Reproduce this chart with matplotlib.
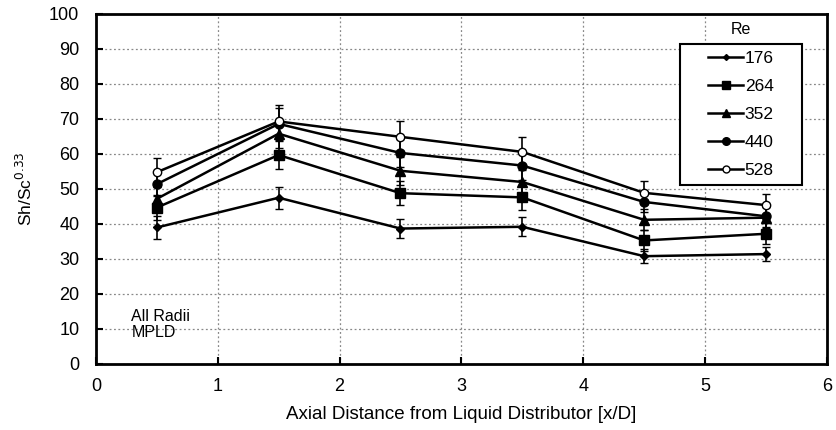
import matplotlib
matplotlib.use("Agg")
import matplotlib.pyplot as plt
from matplotlib.lines import Line2D
from matplotlib.patches import Rectangle

# axial positions [x/D]
x_pos = [0.5, 1.5, 2.5, 3.5, 4.5, 5.5]

re_labels = ["176", "264", "352", "440", "528"]

sh_176 = [39, 47.5, 38.7, 39.2, 30.8, 31.4]
sh_264 = [44.7, 59.7, 48.8, 47.6, 35.3, 37.2]
sh_352 = [47.2, 65.8, 55.2, 52, 41.2, 41.8]
sh_440 = [51.4, 68.6, 60.3, 56.7, 46.3, 42.2]
sh_528 = [54.8, 69.3, 64.9, 60.6, 48.9, 45.4]

err_176 = [3.2, 3.2, 2.8, 2.7, 2.0, 2.0]
err_264 = [3.5, 4.0, 3.5, 3.5, 3.0, 3.0]
err_352 = [3.5, 4.0, 4.0, 3.5, 3.0, 3.0]
err_440 = [3.5, 4.5, 4.0, 4.0, 3.0, 3.0]
err_528 = [4.0, 4.6, 4.5, 4.3, 3.3, 3.3]

series = [sh_176, sh_264, sh_352, sh_440, sh_528]
errors = [err_176, err_264, err_352, err_440, err_528]
markers = ["D", "s", "^", "o", "o"]
msizes = [4, 6.5, 6.5, 6.5, 6]
faces = ["black", "black", "black", "black", "white"]

plt.rcParams["font.family"] = ["Liberation Sans", "DejaVu Sans"]

fig = plt.figure(figsize=(8.36, 4.30), dpi=100)
ax = fig.add_axes([0.1148, 0.1535, 0.8742, 0.814])

handles = []
for y, e, m, ms, fc, lab in zip(series, errors, markers, msizes, faces, re_labels):
    ax.errorbar(x_pos, y, yerr=e, color="black", lw=1.8, marker=m, ms=ms,
                mfc=fc, mec="black", mew=1.0, elinewidth=1.2, capsize=3,
                capthick=1.2)
    handles.append(Line2D([], [], color="black", lw=1.8, marker=m, ms=ms - 1,
                          mfc=fc, mec="black", mew=1.0, label=lab))

ax.set_xlim(0, 6)
ax.set_ylim(0, 100)
ax.set_xticks(range(0, 7))
ax.set_yticks(range(0, 101, 10))
ax.grid(True, color="#888888", linestyle=(0, (1.5, 2)), lw=0.9)
ax.tick_params(direction="in", length=5, width=1.5, labelsize=13)
ax.tick_params(axis="y", pad=12)
ax.tick_params(axis="x", pad=10)
for sp in ax.spines.values():
    sp.set_linewidth(2)

ax.set_xlabel("Axial Distance from Liquid Distributor [x/D]", fontsize=13.5, labelpad=8)
ax.set_ylabel("Sh/Sc$^{0.33}$", fontsize=12.5, labelpad=10)

ax.text(0.29, 11.2, "All Radii\nMPLD", fontsize=11.5, va="center", ha="left",
        linespacing=1.1)

# legend box drawn separately so the title "Re" sits above it
ax.add_patch(Rectangle((0.799, 0.511), 0.167, 0.403, transform=ax.transAxes,
                       fill=True, facecolor="white", edgecolor="black",
                       lw=1.5, zorder=4))
leg = ax.legend(handles=handles, loc="center", bbox_to_anchor=(0.8825, 0.7125),
                frameon=False, fontsize=12.5, handlelength=2.0,
                handletextpad=0.1, labelspacing=0.74)
leg.set_zorder(5)
ax.text(0.882, 0.955, "Re", transform=ax.transAxes, fontsize=11.5,
        ha="center", va="center")

fig.savefig("out.png", dpi=100)
